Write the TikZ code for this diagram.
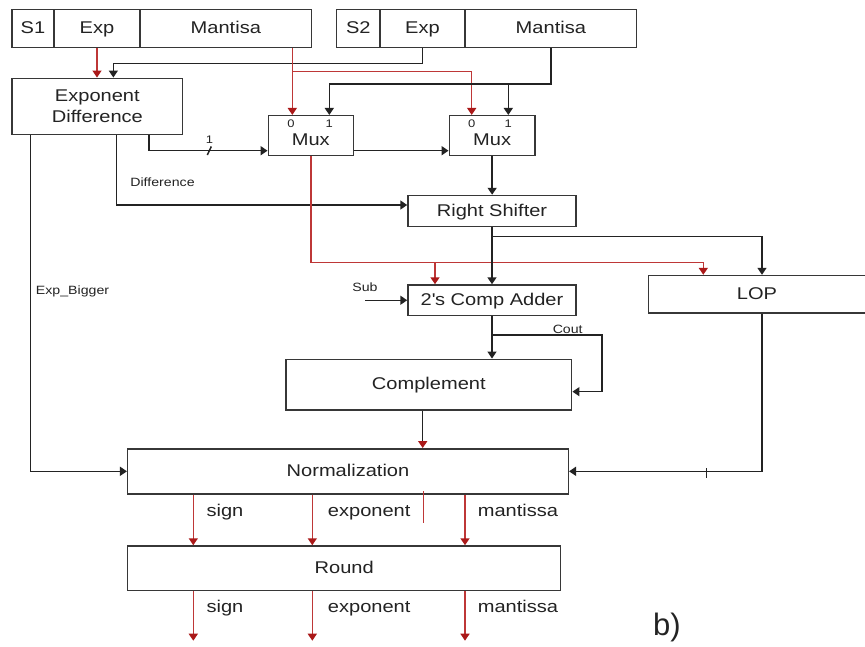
\documentclass[tikz,border=0pt]{standalone}
\usepackage{fontspec}
\setmainfont{Liberation Sans}[FakeStretch=1.18]
\newfontfamily\plainsans{Liberation Sans}
\usetikzlibrary{arrows.meta}

\definecolor{wirecol}{RGB}{35,35,35}
\definecolor{boxline}{RGB}{55,55,55}
\definecolor{redwire}{RGB}{190,55,55}
\definecolor{redtipcol}{RGB}{170,25,25}
\definecolor{ink}{RGB}{35,35,35}

\tikzset{
  box/.style={draw=boxline, line width=1.5pt, rectangle, inner sep=0pt,
              text=ink, font=\fontsize{17}{21.6}\selectfont, align=center},
  blk/.style={box, text height=12.5pt, text depth=2pt},
  wire/.style={draw=wirecol, line width=1.5pt},
  rwire/.style={draw=redwire, line width=1.5pt},
  arr/.style={-{Triangle[length=7pt,width=9pt]}},
  rarr/.style={-{Triangle[length=7pt,width=9pt,color=redtipcol]}},
  small/.style={font=\fontsize{12}{14}\selectfont, text=ink, inner sep=0pt},
  tiny/.style={font=\fontsize{11}{13}\selectfont, text=ink, inner sep=0pt},
  lbl/.style={font=\fontsize{17}{21}\selectfont, text=ink, inner sep=0pt,
              text height=12.5pt, text depth=3.5pt},
}

\begin{document}
\begin{tikzpicture}[x=1pt,y=-1pt]
\useasboundingbox (0,0) rectangle (865,646);
\fill[white] (0,0) rectangle (865,646);

% operand registers
\node[blk, minimum width=42pt,    minimum height=38.4pt] (s1) at (33,28.5)     {S1};
\node[blk, minimum width=86pt,    minimum height=38.4pt] (e1) at (97,28.5)     {Exp};
\node[blk, minimum width=171.7pt, minimum height=38.4pt] (m1) at (225.85,28.5) {Mantisa};
\node[blk, minimum width=43.3pt,  minimum height=38.4pt] (s2) at (358.35,28.5) {S2};
\node[blk, minimum width=85pt,    minimum height=38.4pt] (e2) at (422.5,28.5)  {Exp};
\node[blk, minimum width=171.7pt, minimum height=38.4pt] (m2) at (550.85,28.5) {Mantisa};

% processing blocks
\node[box, minimum width=170.7pt, minimum height=56pt] (ed) at (97.35,106.3) {Exponent\\Difference};
\node[blk, minimum width=85pt,   minimum height=40pt] (mux1) at (310.8,135.7) {};
\node[blk, minimum width=85.7pt, minimum height=40pt] (mux2) at (492.15,135.7) {};
\node[lbl] (mux1t) at (310.8,140.5) {Mux};
\node[lbl] (mux2t) at (492.15,140.5) {Mux};
\node[tiny] (m1z) at (291,123.5) {0};
\node[tiny] (m1o) at (329.3,123.5) {1};
\node[tiny] (m2z) at (471.7,123.5) {0};
\node[tiny] (m2o) at (508.3,123.5) {1};
\node[blk, minimum width=168pt, minimum height=31pt]   (rs)   at (492,211)       {Right Shifter};
\node[blk, minimum width=168pt, minimum height=30.5pt] (add)  at (492,300.25)    {2\textquotesingle s Comp Adder};
\node[blk, minimum width=217.4pt, minimum height=37.5pt] (lop) at (757,294.3)    {LOP};
\node[blk, minimum width=285.7pt, minimum height=50.7pt] (comp) at (428.85,384.65) {Complement};
\node[blk, minimum width=440.6pt, minimum height=45pt]   (norm) at (348,471.3)   {Normalization};
\node[blk, minimum width=433pt,   minimum height=44.7pt] (round) at (344.2,568.35) {Round};

% ports and wiring rows
\coordinate (m1i0) at ([xshift=-18.5pt]mux1.north);
\coordinate (m1i1) at ([xshift=18.5pt]mux1.north);
\coordinate (m2i0) at ([xshift=-20.45pt]mux2.north);
\coordinate (m2i1) at ([xshift=16.15pt]mux2.north);
\coordinate (edin) at ([xshift=16pt]ed.north);
\coordinate (addin0) at ([xshift=-57pt]add.north);
\coordinate (lopin0) at ([xshift=-53.7pt]lop.north);
\coordinate (lopin1) at ([xshift=5pt]lop.north);
\coordinate (rowA) at (0,63.3);
\coordinate (rowR) at (0,71.7);
\coordinate (rowB) at (0,84);
\coordinate (rowT) at (0,236.5);
\coordinate (rowS) at (0,262.3);
\coordinate (rowC) at (0,335);
\coordinate (outrow) at (0,640.7);
\coordinate (subsrc) at (365,300.25);

% exponents into the difference unit
\draw[rwire,rarr] (e1.south) -- (e1.south |- ed.north);
\draw[wire,arr] (e2.south) |- (rowA -| edin) -- (edin);

% mantissas into the multiplexers
\draw[rwire,rarr] (m1i0 |- m1.south) -- (m1i0);
\draw[rwire,rarr] (m1i0 |- rowR) -| (m2i0);
\draw[wire,arr] (m2.south) |- (m1i1 |- rowB) -- (m1i1);
\draw[wire,arr] (m2i1 |- rowB) -- (m2i1);

% outputs of the exponent difference
\draw[wire,arr] ([xshift=51.65pt]ed.south) |- ([yshift=-15pt]mux1.west);
\draw[wire] (207.3,155) -- (211.3,146.5);
\node[tiny] (selw) at (209.5,139.5) {1};
\draw[wire,arr] ([xshift=19.35pt]ed.south) |- ([yshift=6pt]rs.west);
\node[small] (difflbl) at (162.5,182) {Difference};
\draw[wire,arr] ([xshift=-66.65pt]ed.south) |- (norm.west);
\node[small] (bigger) at (72.5,291) {Exp\_Bigger};

% multiplexer chain and shifter
\draw[wire,arr] ([yshift=-15pt]mux1.east) -- ([yshift=-15pt]mux2.west);
\draw[wire,arr] (mux2.south) -- (mux2.south |- rs.north);
\draw[rwire] (mux1.south) |- (lopin0 |- rowS);
\draw[rwire,rarr] (lopin0 |- rowS) -- (lopin0);
\draw[rwire,rarr] (addin0 |- rowS) -- (addin0);
\draw[wire,arr] (rs.south) -- (add.north);
\draw[wire,arr] (rs.south |- rowT) -| (lopin1);

% adder and complement
\draw[wire,arr] (subsrc) -- (add.west);
\node[small] (sublbl) at (365,287.5) {Sub};
\draw[wire,arr] (add.south) -- (add.south |- comp.north);
\draw[wire,arr] (add.south |- rowC) -| ([xshift=29.3pt,yshift=-7pt]comp.east) -- ([yshift=-7pt]comp.east);
\node[small] (coutlbl) at (567.7,329.3) {Cout};
\draw[wire,rarr] ([xshift=-6.15pt]comp.south) -- ([xshift=-6.15pt]comp.south |- norm.north);
\draw[rwire] (423.3,491) -- (423.3,522.7);

% leading one predictor into normalization
\draw[wire,arr] (lopin1 |- lop.south) |- (norm.east);
\draw[wire] (706.7,468.3) -- (706.7,477.5);

% normalization to rounding, and final outputs
\foreach \dx/\nm in {-154.7/a, -35.7/b, 117/c} {
  \coordinate (ns\nm) at ([xshift=\dx pt]norm.south);
  \coordinate (rs\nm) at ([xshift=\dx pt]norm.south |- round.south);
  \draw[rwire,rarr] (ns\nm) -- (ns\nm |- round.north);
  \draw[rwire,rarr] (rs\nm) -- (rs\nm |- outrow);
}
\node[lbl] (sg1) at (225,511.7) {sign};
\node[lbl] (ex1) at (369.2,511.7) {exponent};
\node[lbl] (mt1) at (518,511.7) {mantissa};
\node[lbl] (sg2) at (225,608) {sign};
\node[lbl] (ex2) at (369.2,608) {exponent};
\node[lbl] (mt2) at (518,608) {mantissa};

\node[font=\plainsans\fontsize{31}{36}\selectfont, text=ink, inner sep=0pt] (tag) at (667,627) {b)};
\end{tikzpicture}
\end{document}
